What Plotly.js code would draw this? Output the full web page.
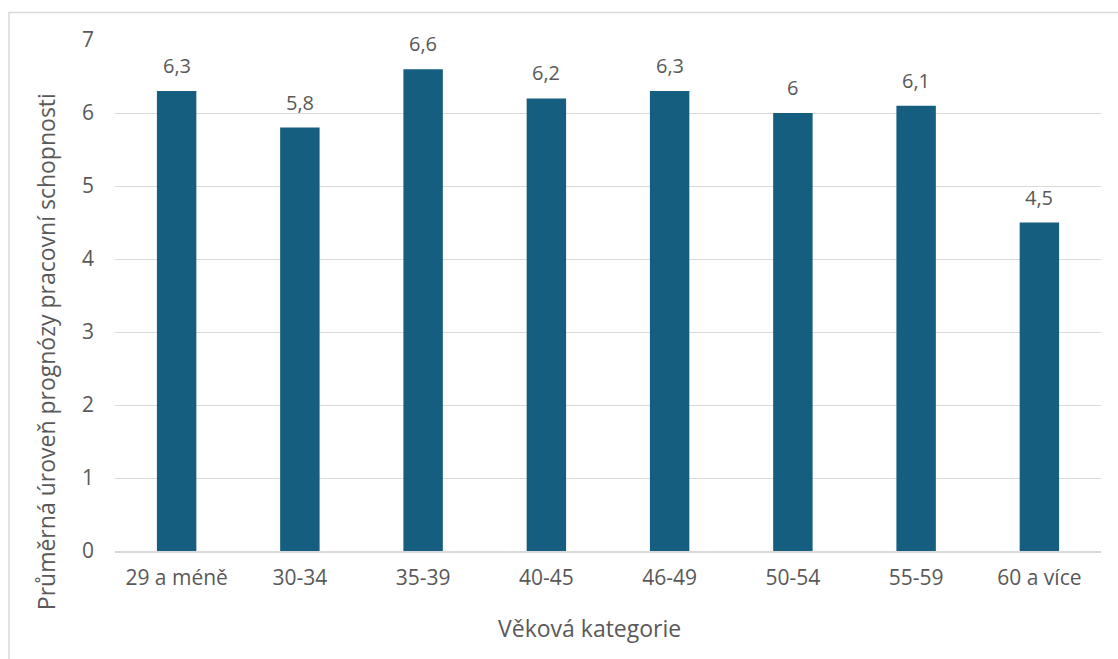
<!DOCTYPE html>
<html>
<head>
<meta charset="utf-8">
<script src="https://cdn.plot.ly/plotly-3.0.1.min.js"></script>
<style>html,body{margin:0;padding:0;background:#fff;}#chart{width:1118px;height:659px;}</style>
</head>
<body>
<div id="chart"></div>
<script>
const categories = ["29 a méně", "30-34", "35-39", "40-45", "46-49", "50-54", "55-59", "60 a více"];
const values = [6.3, 5.8, 6.6, 6.2, 6.3, 6.0, 6.1, 4.5];
const yTicks = [0, 1, 2, 3, 4, 5, 6, 7];
const xTitle = "Věková kategorie";
const yTitle = "Průměrná úroveň prognózy pracovní schopnosti";

const fontFam = "Open Sans, Liberation Sans, Arial, sans-serif";
const gray = "#595959";

const labels = values.map(v => String(v).replace('.', ','));

const trace = {
  type: 'bar',
  x: categories,
  y: values,
  marker: {color: '#165E80'},
  hoverinfo: 'x+y'
};

const annotations = categories.map((c, i) => ({
  x: c, y: values[i], xref: 'x', yref: 'y',
  text: labels[i], showarrow: false,
  yanchor: 'bottom', yshift: 10,
  font: {family: fontFam, size: 20, color: gray}
}));

annotations.push({
  xref: 'paper', yref: 'paper', x: -0.07, y: 0.391,
  text: yTitle, textangle: -90, showarrow: false,
  xanchor: 'center', yanchor: 'middle',
  font: {family: fontFam, size: 23, color: gray}
});
annotations.push({
  xref: 'paper', yref: 'paper', x: 0.4817, y: -0.1507,
  text: xTitle, showarrow: false,
  xanchor: 'center', yanchor: 'middle',
  font: {family: fontFam, size: 23, color: gray}
});

const layout = {
  width: 1118, height: 659,
  margin: {l: 115, r: 17, t: 40, b: 108},
  paper_bgcolor: '#fff', plot_bgcolor: '#fff',
  separators: ', ',
  bargap: 0.68,
  showlegend: false,
  font: {family: fontFam, color: gray, size: 21},
  xaxis: {
    type: 'category',
    showgrid: false,
    showline: true, linecolor: '#d9d9d9', linewidth: 1.5,
    ticks: '', tickfont: {size: 21, color: gray, family: fontFam},
    ticklabelstandoff: 7
  },
  yaxis: {
    range: [0, 7],
    tickvals: yTicks,
    showgrid: true, gridcolor: '#d9d9d9', gridwidth: 1,
    zeroline: false, showline: false,
    ticks: '', tickfont: {size: 21, color: gray, family: fontFam},
    ticklabelstandoff: 20
  },
  annotations: annotations,
  shapes: [{
    type: 'rect', xref: 'paper', yref: 'paper',
    x0: -0.1075, x1: 1.1, y0: -0.4, y1: 1.0538,
    line: {color: '#d9d9d9', width: 1.5}, fillcolor: 'rgba(0,0,0,0)', layer: 'below'
  }]
};

Plotly.newPlot('chart', [trace], layout, {displayModeBar: false, staticPlot: true});
</script>
</body>
</html>
